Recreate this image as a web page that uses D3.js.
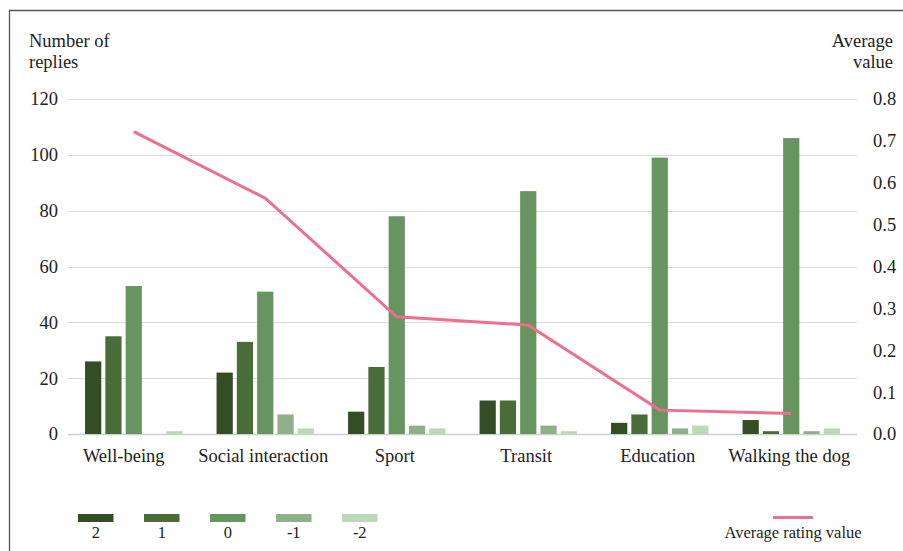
<!DOCTYPE html>
<html>
<head>
<meta charset="utf-8">
<script src="https://cdn.jsdelivr.net/npm/d3@7"></script>
<style>
  body { margin: 0; background: #fff; }
</style>
</head>
<body>
<script>
var categories = ["Well-being", "Social interaction", "Sport", "Transit", "Education", "Walking the dog"];
var levels = ["2", "1", "0", "-1", "-2"];
// number of replies per rating level, in order of categories
var replies2 = [26, 22, 8, 12, 4, 5];
var replies1 = [35, 33, 24, 12, 7, 1];
var replies0 = [53, 51, 78, 87, 99, 106];
var repliesM1 = [0, 7, 3, 3, 2, 1];
var repliesM2 = [1, 2, 2, 1, 3, 2];
var averageRating = [0.722, 0.563, 0.28, 0.26, 0.057, 0.049];
var leftTicks = [0, 20, 40, 60, 80, 100, 120];
var rightTicks = [0, 0.1, 0.2, 0.3, 0.4, 0.5, 0.6, 0.7, 0.8];

var series = [replies2, replies1, replies0, repliesM1, repliesM2];
var colors = ["#334d24", "#4a6c39", "#67955f", "#8fb089", "#bcd8b7"];
var lineColor = "#ee6f8d";
var FONT = "Liberation Serif";
var INK = "#222";

var W = 903, H = 551;
var svg = d3.select("body").append("svg")
    .attr("width", W)
    .attr("height", H);

function label(sel, size) {
    return sel.attr("font-family", FONT)
        .attr("font-size", size)
        .attr("fill", INK);
}

// frame
svg.append("path")
    .attr("d", "M9.5," + H + "V10.5H" + W)
    .attr("fill", "none")
    .attr("stroke", "#555")
    .attr("stroke-width", 1.3);

var x0 = d3.scaleBand().domain(categories).range([68, 857]);
var x1 = d3.scaleBand().domain(levels).range([-48.7, 48.7]).paddingInner(0.2);
var y = d3.scaleLinear().domain([0, 120]).range([434, 99]);
var y2 = d3.scaleLinear().domain([0, 0.8]).range([434, 99]);

// gridlines
svg.append("g").selectAll("line")
    .data(leftTicks)
    .enter().append("line")
    .attr("x1", 68).attr("x2", 857)
    .attr("y1", function (d) { return Math.round(y(d)) + 0.5; })
    .attr("y2", function (d) { return Math.round(y(d)) + 0.5; })
    .attr("stroke", function (d) { return d === 0 ? "#cfcfcf" : "#dcdcdc"; })
    .attr("stroke-width", function (d) { return d === 0 ? 1.5 : 1; });

// left axis labels
svg.append("g").selectAll("text")
    .data(leftTicks)
    .enter().append("text")
    .call(label, 18.5)
    .attr("x", 58)
    .attr("y", function (d) { return y(d); })
    .attr("dy", "0.35em")
    .attr("text-anchor", "end")
    .text(function (d) { return d; });

// right axis labels
svg.append("g").selectAll("text")
    .data(rightTicks)
    .enter().append("text")
    .call(label, 18.5)
    .attr("x", 873)
    .attr("y", function (d) { return y2(d); })
    .attr("dy", "0.35em")
    .text(function (d) { return d.toFixed(1); });

// axis titles
svg.append("text").call(label, 18.5).attr("x", 29).attr("y", 47).text("Number of");
svg.append("text").call(label, 18.5).attr("x", 29).attr("y", 68).text("replies");
svg.append("text").call(label, 18.5).attr("x", 893).attr("y", 47).attr("text-anchor", "end").text("Average");
svg.append("text").call(label, 18.5).attr("x", 893).attr("y", 68).attr("text-anchor", "end").text("value");

// bars
var groups = svg.append("g").selectAll("g")
    .data(categories)
    .enter().append("g")
    .attr("transform", function (d) { return "translate(" + (x0(d) + x0.bandwidth() / 2) + ",0)"; });

groups.selectAll("rect")
    .data(function (d, i) {
        return levels.map(function (l, j) { return { level: l, value: series[j][i], idx: j }; });
    })
    .enter().append("rect")
    .attr("x", function (d) { return x1(d.level); })
    .attr("width", x1.bandwidth())
    .attr("y", function (d) { return y(d.value); })
    .attr("height", function (d) { return y(0) - y(d.value); })
    .attr("fill", function (d) { return colors[d.idx]; });

// category labels
svg.append("g").selectAll("text")
    .data(categories)
    .enter().append("text")
    .call(label, 18.5)
    .attr("x", function (d, i) { return x0(d) + x0.bandwidth() / 2 - (i === 0 ? 10 : 2); })
    .attr("y", 462)
    .attr("text-anchor", "middle")
    .text(function (d) { return d; });

// average line
var line = d3.line()
    .x(function (d, i) { return x0(categories[i]) + x0.bandwidth() / 2; })
    .y(function (d) { return y2(d); });

svg.append("path")
    .datum(averageRating)
    .attr("d", line)
    .attr("fill", "none")
    .attr("stroke", lineColor)
    .attr("stroke-width", 3);

// legend
var legend = svg.append("g").selectAll("g")
    .data(levels)
    .enter().append("g")
    .attr("transform", function (d, i) { return "translate(" + (78 + i * 66) + ",0)"; });

legend.append("rect")
    .attr("x", 0).attr("y", 514)
    .attr("width", 35.5).attr("height", 8)
    .attr("fill", function (d, i) { return colors[i]; });

legend.append("text")
    .call(label, 16.5)
    .attr("x", 17.75).attr("y", 538)
    .attr("text-anchor", "middle")
    .text(function (d) { return d; });

svg.append("line")
    .attr("x1", 773).attr("x2", 813)
    .attr("y1", 517.5).attr("y2", 517.5)
    .attr("stroke", lineColor)
    .attr("stroke-width", 3);

svg.append("text")
    .call(label, 16.5)
    .attr("x", 793).attr("y", 538)
    .attr("text-anchor", "middle")
    .text("Average rating value");
</script>
</body>
</html>
